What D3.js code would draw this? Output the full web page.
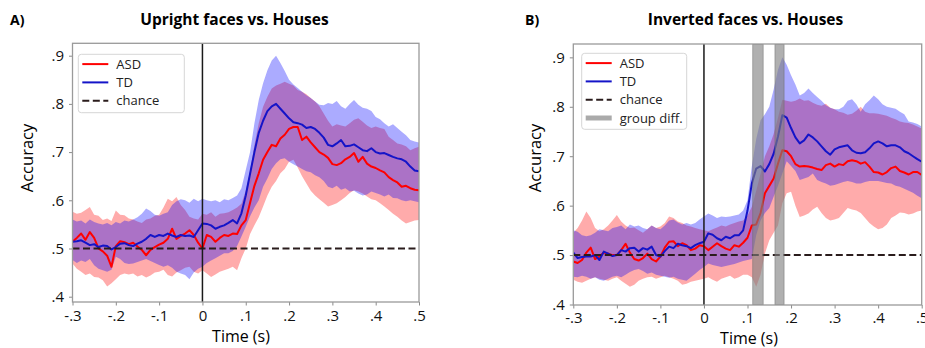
<!DOCTYPE html>
<html>
<head>
<meta charset="utf-8">
<script src="https://cdn.jsdelivr.net/npm/d3@7/dist/d3.min.js"></script>
<style>
  html, body { margin: 0; padding: 0; background: #fff; }
  svg { display: block; font-family: "Open Sans", sans-serif; }
  .tick text { fill: #111; }
  .tick line { stroke: #8a8a8a; }
</style>
</head>
<body>
<svg id="chart" width="925" height="348"></svg>
<script>
// Time samples, one every 10 ms from -300 ms to 500 ms.
const times = d3.range(-30, 51).map((i) => i / 100);

const xTicks = [-0.3, -0.2, -0.1, 0, 0.1, 0.2, 0.3, 0.4, 0.5];
const xTickLabels = ['-.3', '-.2', '-.1', '0', '.1', '.2', '.3', '.4', '.5'];
const yTicks = [0.4, 0.5, 0.6, 0.7, 0.8, 0.9];
const yTickLabels = ['.4', '.5', '.6', '.7', '.8', '.9'];
const chance = 0.5;

// A) Upright faces vs. Houses
const asdUp = [
  .514, .522, .531, .518, .534, .522, .500, .494, .485, .462,
  .505, .515, .513, .509, .512, .504, .497, .486, .497, .503,
  .508, .512, .520, .541, .520, .526, .531, .538, .528, .512,
  .500, .528, .524, .514, .522, .528, .526, .531, .530, .548,
  .559, .595, .630, .656, .684, .700, .715, .712, .728, .736,
  .748, .752, .752, .725, .732, .720, .710, .700, .695, .688,
  .675, .673, .677, .685, .690, .698, .680, .690, .676, .670,
  .667, .662, .658, .648, .642, .637, .628, .630, .625, .622,
  .621
];
const asdUpLo = [
  .469, .458, .452, .445, .448, .441, .440, .434, .421, .428,
  .436, .445, .448, .446, .448, .442, .445, .440, .444, .450,
  .452, .456, .445, .442, .450, .455, .460, .462, .452, .448,
  .455, .448, .441, .446, .452, .455, .458, .462, .455, .480,
  .500, .530, .548, .565, .587, .610, .628, .640, .656, .665,
  .680, .684, .668, .650, .635, .620, .610, .602, .595, .587,
  .590, .594, .600, .607, .615, .621, .618, .614, .608, .602,
  .600, .594, .587, .580, .572, .566, .558, .552, .555, .558,
  .559
];
const asdUpHi = [
  .576, .572, .574, .580, .586, .570, .568, .559, .562, .557,
  .579, .570, .569, .562, .560, .556, .553, .560, .562, .568,
  .570, .585, .603, .598, .607, .590, .580, .566, .562, .560,
  .572, .570, .575, .566, .572, .573, .575, .580, .585, .593,
  .620, .660, .715, .760, .794, .815, .832, .838, .842, .846,
  .842, .838, .829, .825, .820, .812, .805, .795, .780, .765,
  .753, .758, .755, .753, .760, .767, .770, .763, .755, .750,
  .753, .750, .748, .732, .725, .718, .716, .712, .704, .708,
  .711
];
const tdUp = [
  .514, .515, .517, .512, .507, .509, .503, .506, .505, .498,
  .503, .510, .511, .507, .505, .510, .514, .520, .528, .524,
  .528, .526, .531, .527, .524, .528, .526, .527, .524, .538,
  .552, .551, .548, .541, .545, .548, .553, .559, .552, .573,
  .610, .655, .700, .740, .765, .785, .795, .800, .790, .780,
  .770, .762, .760, .757, .750, .752, .748, .740, .730, .715,
  .712, .718, .725, .712, .713, .716, .710, .704, .702, .708,
  .700, .697, .698, .694, .690, .687, .685, .680, .670, .662,
  .660
];
const tdUpLo = [
  .476, .470, .475, .472, .478, .465, .458, .455, .452, .456,
  .483, .478, .470, .468, .469, .472, .475, .478, .474, .470,
  .466, .462, .465, .460, .452, .448, .445, .436, .450, .458,
  .462, .470, .475, .480, .485, .490, .490, .495, .505, .525,
  .545, .567, .585, .600, .628, .645, .665, .677, .685, .687,
  .680, .675, .670, .665, .660, .658, .652, .648, .640, .628,
  .625, .630, .622, .625, .618, .620, .614, .610, .612, .618,
  .615, .612, .608, .612, .605, .604, .600, .598, .600, .598,
  .596
];
const tdUpHi = [
  .560, .556, .558, .552, .560, .555, .552, .550, .553, .548,
  .555, .552, .558, .556, .560, .565, .572, .583, .578, .570,
  .568, .572, .575, .590, .598, .602, .600, .595, .603, .598,
  .603, .600, .598, .600, .596, .602, .600, .605, .610, .625,
  .663, .700, .760, .808, .843, .870, .890, .900, .885, .868,
  .850, .840, .833, .825, .818, .812, .805, .798, .797, .802,
  .800, .806, .795, .790, .800, .808, .798, .792, .790, .785,
  .773, .768, .760, .753, .758, .750, .742, .735, .725, .722,
  .720
];

// B) Inverted faces vs. Houses
const asdInv = [
  .487, .484, .490, .505, .515, .492, .497, .505, .503, .500,
  .500, .510, .523, .505, .492, .489, .494, .503, .492, .487,
  .497, .515, .527, .528, .518, .524, .520, .510, .513, .520,
  .518, .510, .517, .524, .518, .513, .510, .520, .517, .525,
  .535, .560, .562, .585, .625, .640, .655, .685, .712, .710,
  .700, .684, .679, .680, .679, .677, .674, .672, .682, .685,
  .679, .684, .682, .690, .692, .690, .685, .688, .679, .668,
  .667, .663, .668, .676, .679, .670, .667, .663, .668, .668,
  .662
];
const asdInvLo = [
  .450, .446, .444, .448, .452, .455, .452, .450, .448, .452,
  .455, .448, .442, .436, .440, .448, .452, .455, .456, .452,
  .455, .458, .455, .452, .448, .440, .442, .446, .448, .450,
  .452, .455, .450, .446, .452, .455, .458, .452, .455, .460,
  .460, .455, .436, .460, .503, .530, .545, .560, .605, .625,
  .628, .600, .577, .580, .584, .592, .598, .585, .575, .570,
  .572, .575, .585, .595, .592, .590, .585, .575, .565, .558,
  .552, .555, .562, .575, .580, .586, .585, .582, .584, .588,
  .590
];
const asdInvHi = [
  .545, .555, .570, .588, .575, .555, .548, .552, .560, .570,
  .581, .568, .560, .555, .556, .550, .545, .552, .560, .555,
  .558, .565, .578, .575, .568, .565, .560, .558, .555, .552,
  .550, .548, .552, .556, .560, .558, .562, .565, .568, .570,
  .580, .598, .630, .665, .700, .720, .745, .778, .814, .812,
  .810, .812, .817, .812, .813, .808, .804, .802, .806, .798,
  .795, .790, .788, .784, .786, .792, .800, .790, .787, .787,
  .786, .784, .782, .778, .775, .770, .768, .767, .764, .760,
  .756
];
const tdInv = [
  .505, .494, .496, .497, .497, .500, .490, .507, .503, .498,
  .500, .510, .507, .514, .515, .507, .514, .511, .517, .500,
  .497, .508, .517, .514, .523, .520, .518, .514, .520, .524,
  .527, .544, .541, .534, .530, .537, .534, .540, .540, .550,
  .590, .645, .675, .680, .669, .684, .705, .740, .783, .778,
  .757, .738, .726, .732, .744, .738, .730, .720, .710, .703,
  .714, .718, .720, .722, .712, .707, .706, .708, .716, .726,
  .730, .726, .720, .722, .722, .718, .710, .706, .700, .694,
  .689
];
const tdInvLo = [
  .456, .455, .458, .456, .452, .455, .450, .448, .452, .456,
  .458, .455, .460, .466, .470, .472, .468, .462, .465, .460,
  .458, .456, .454, .456, .452, .450, .448, .455, .462, .470,
  .476, .483, .480, .478, .476, .478, .480, .482, .485, .488,
  .490, .492, .540, .570, .585, .595, .618, .640, .665, .690,
  .680, .670, .652, .655, .658, .665, .652, .648, .645, .640,
  .642, .645, .648, .650, .648, .645, .645, .648, .650, .650,
  .650, .648, .646, .645, .640, .638, .634, .630, .626, .620,
  .615
];
const tdInvHi = [
  .550, .547, .540, .538, .540, .545, .552, .550, .548, .555,
  .557, .560, .552, .562, .558, .560, .555, .552, .560, .555,
  .552, .560, .570, .572, .566, .562, .565, .562, .565, .572,
  .578, .584, .580, .575, .578, .577, .578, .580, .582, .590,
  .611, .680, .735, .773, .785, .800, .835, .875, .900, .885,
  .864, .845, .823, .828, .837, .828, .820, .812, .803, .798,
  .795, .795, .800, .812, .815, .805, .790, .805, .813, .823,
  .815, .805, .800, .798, .796, .790, .785, .770, .768, .765,
  .760
];
// Windows (s) with a significant ASD/TD difference.
const diffInv = [[0.112, 0.136], [0.163, 0.184]];

const panels = [
  {
    letter: 'A)', title: 'Upright faces vs. Houses',
    asd: asdUp, asdLo: asdUpLo, asdHi: asdUpHi,
    td: tdUp, tdLo: tdUpLo, tdHi: tdUpHi, diff: [],
    left: 72.5, right: 419, top: 43.3, bottom: 302, yMin: 0.389, yMax: 0.9257,
    letterX: 10, titleX: 234.5, yLabelX: 33, xLabelX: 241, xLabelY: 342, xPad: 5,
    legend: { x: 78.3, y: 54.3, w: 106, h: 58.4 }
  },
  {
    letter: 'B)', title: 'Inverted faces vs. Houses',
    asd: asdInv, asdLo: asdInvLo, asdHi: asdInvHi,
    td: tdInv, tdLo: tdInvLo, tdHi: tdInvHi, diff: diffInv,
    left: 573.3, right: 921.7, top: 44, bottom: 305, yMin: 0.399, yMax: 0.927,
    letterX: 525, titleX: 745.5, yLabelX: 541, xLabelX: 749, xLabelY: 344, xPad: 3.5,
    legend: { x: 581.7, y: 53.3, w: 105, h: 76 }
  }
];

const RED = '#ff0000';
const BLUE = '#1414c8';
const svg = d3.select('#chart');

panels.forEach((p, pi) => {
  const x = d3.scaleLinear().domain([-0.3, 0.5]).range([p.left, p.right]);
  const y = d3.scaleLinear().domain([p.yMin, p.yMax]).range([p.bottom, p.top]);
  const g = svg.append('g');

  const clipId = 'clip' + pi;
  svg.append('clipPath').attr('id', clipId)
    .append('rect')
    .attr('x', p.left).attr('y', p.top)
    .attr('width', p.right - p.left).attr('height', p.bottom - p.top);

  const plot = g.append('g').attr('clip-path', `url(#${clipId})`);

  const band = (lo, hi) => d3.area()
    .x((d, i) => x(times[i]))
    .y0((d, i) => y(lo[i]))
    .y1((d, i) => y(hi[i]))(times);
  const line = (vals) => d3.line()
    .x((d, i) => x(times[i]))
    .y((d, i) => y(vals[i]))(times);

  // Confidence bands: ASD first, TD on top.
  plot.append('path').attr('d', band(p.asdLo, p.asdHi))
    .attr('fill', RED).attr('fill-opacity', 0.33);
  plot.append('path').attr('d', band(p.tdLo, p.tdHi))
    .attr('fill', '#0000ff').attr('fill-opacity', 0.33);

  plot.append('path').attr('d', line(p.asd))
    .attr('fill', 'none').attr('stroke', RED).attr('stroke-width', 2)
    .attr('stroke-linejoin', 'round');
  plot.append('path').attr('d', line(p.td))
    .attr('fill', 'none').attr('stroke', BLUE).attr('stroke-width', 2)
    .attr('stroke-linejoin', 'round');

  // Chance level and stimulus onset.
  plot.append('line')
    .attr('x1', x(-0.3)).attr('x2', x(0.5))
    .attr('y1', y(chance)).attr('y2', y(chance))
    .attr('stroke', '#2a1c1c').attr('stroke-width', 2)
    .attr('stroke-dasharray', '7,3.5');
  plot.append('line')
    .attr('x1', x(0)).attr('x2', x(0))
    .attr('y1', p.top).attr('y2', p.bottom)
    .attr('stroke', '#1a1a1a').attr('stroke-width', 1.5);

  // Group-difference windows.
  plot.selectAll('rect.diff').data(p.diff).enter()
    .append('rect').attr('class', 'diff')
    .attr('x', (d) => x(d[0]))
    .attr('width', (d) => x(d[1]) - x(d[0]))
    .attr('y', p.top).attr('height', p.bottom - p.top)
    .attr('fill', '#808080').attr('fill-opacity', 0.62)
    .attr('stroke', '#6a6a6a').attr('stroke-opacity', 0.6).attr('stroke-width', 0.8);

  // Axes
  const xAxis = d3.axisBottom(x)
    .tickValues(xTicks)
    .tickFormat((d, i) => xTickLabels[i])
    .tickSize(3.5).tickPadding(p.xPad);
  g.append('g').attr('transform', `translate(0,${p.bottom})`).call(xAxis)
    .call((s) => s.select('.domain').remove())
    .selectAll('text').attr('font-size', 15).attr('font-family', '"Open Sans", sans-serif');

  const yAxis = d3.axisLeft(y)
    .tickValues(yTicks)
    .tickFormat((d, i) => yTickLabels[i])
    .tickSize(3.5).tickPadding(5);
  g.append('g').attr('transform', `translate(${p.left},0)`).call(yAxis)
    .call((s) => s.select('.domain').remove())
    .selectAll('text').attr('font-size', 15).attr('font-family', '"Open Sans", sans-serif');

  // Frame
  g.append('rect')
    .attr('x', p.left).attr('y', p.top)
    .attr('width', p.right - p.left).attr('height', p.bottom - p.top)
    .attr('fill', 'none').attr('stroke', '#9a9a9a').attr('stroke-width', 1.3);

  // Labels
  g.append('text').attr('x', p.letterX).attr('y', 25)
    .attr('font-size', 14).attr('font-weight', 700).text(p.letter);
  g.append('text').attr('x', p.titleX).attr('y', 25)
    .attr('text-anchor', 'middle').attr('font-size', 15.5).attr('font-weight', 700)
    .text(p.title);
  g.append('text').attr('x', p.xLabelX).attr('y', p.xLabelY)
    .attr('text-anchor', 'middle').attr('font-size', 16).text('Time (s)');
  g.append('text')
    .attr('transform', `translate(${p.yLabelX},158) rotate(-90)`)
    .attr('text-anchor', 'middle').attr('font-size', 16.5).text('Accuracy');

  // Legend
  const L = p.legend;
  const lg = g.append('g');
  lg.append('rect').attr('x', L.x).attr('y', L.y).attr('width', L.w).attr('height', L.h)
    .attr('rx', 3).attr('fill', '#fff').attr('fill-opacity', 0.85)
    .attr('stroke', '#d6d6d6').attr('stroke-width', 1);
  const items = [
    { label: 'ASD', color: RED, width: 2, dash: null },
    { label: 'TD', color: BLUE, width: 2, dash: null },
    { label: 'chance', color: '#2a1c1c', width: 2, dash: '7,3.5' }
  ];
  if (p.diff.length) items.push({ label: 'group diff.', color: '#aaaaaa', width: 5, dash: null });
  items.forEach((it, i) => {
    const cy = L.y + 9.8 + i * 18.3;
    lg.append('line')
      .attr('x1', L.x + 4).attr('x2', L.x + 30)
      .attr('y1', cy).attr('y2', cy)
      .attr('stroke', it.color).attr('stroke-width', it.width)
      .attr('stroke-dasharray', it.dash);
    lg.append('text').attr('x', L.x + 38).attr('y', cy).attr('dy', '0.36em')
      .attr('font-size', 13).attr('fill', '#222').text(it.label);
  });
});
</script>
</body>
</html>
